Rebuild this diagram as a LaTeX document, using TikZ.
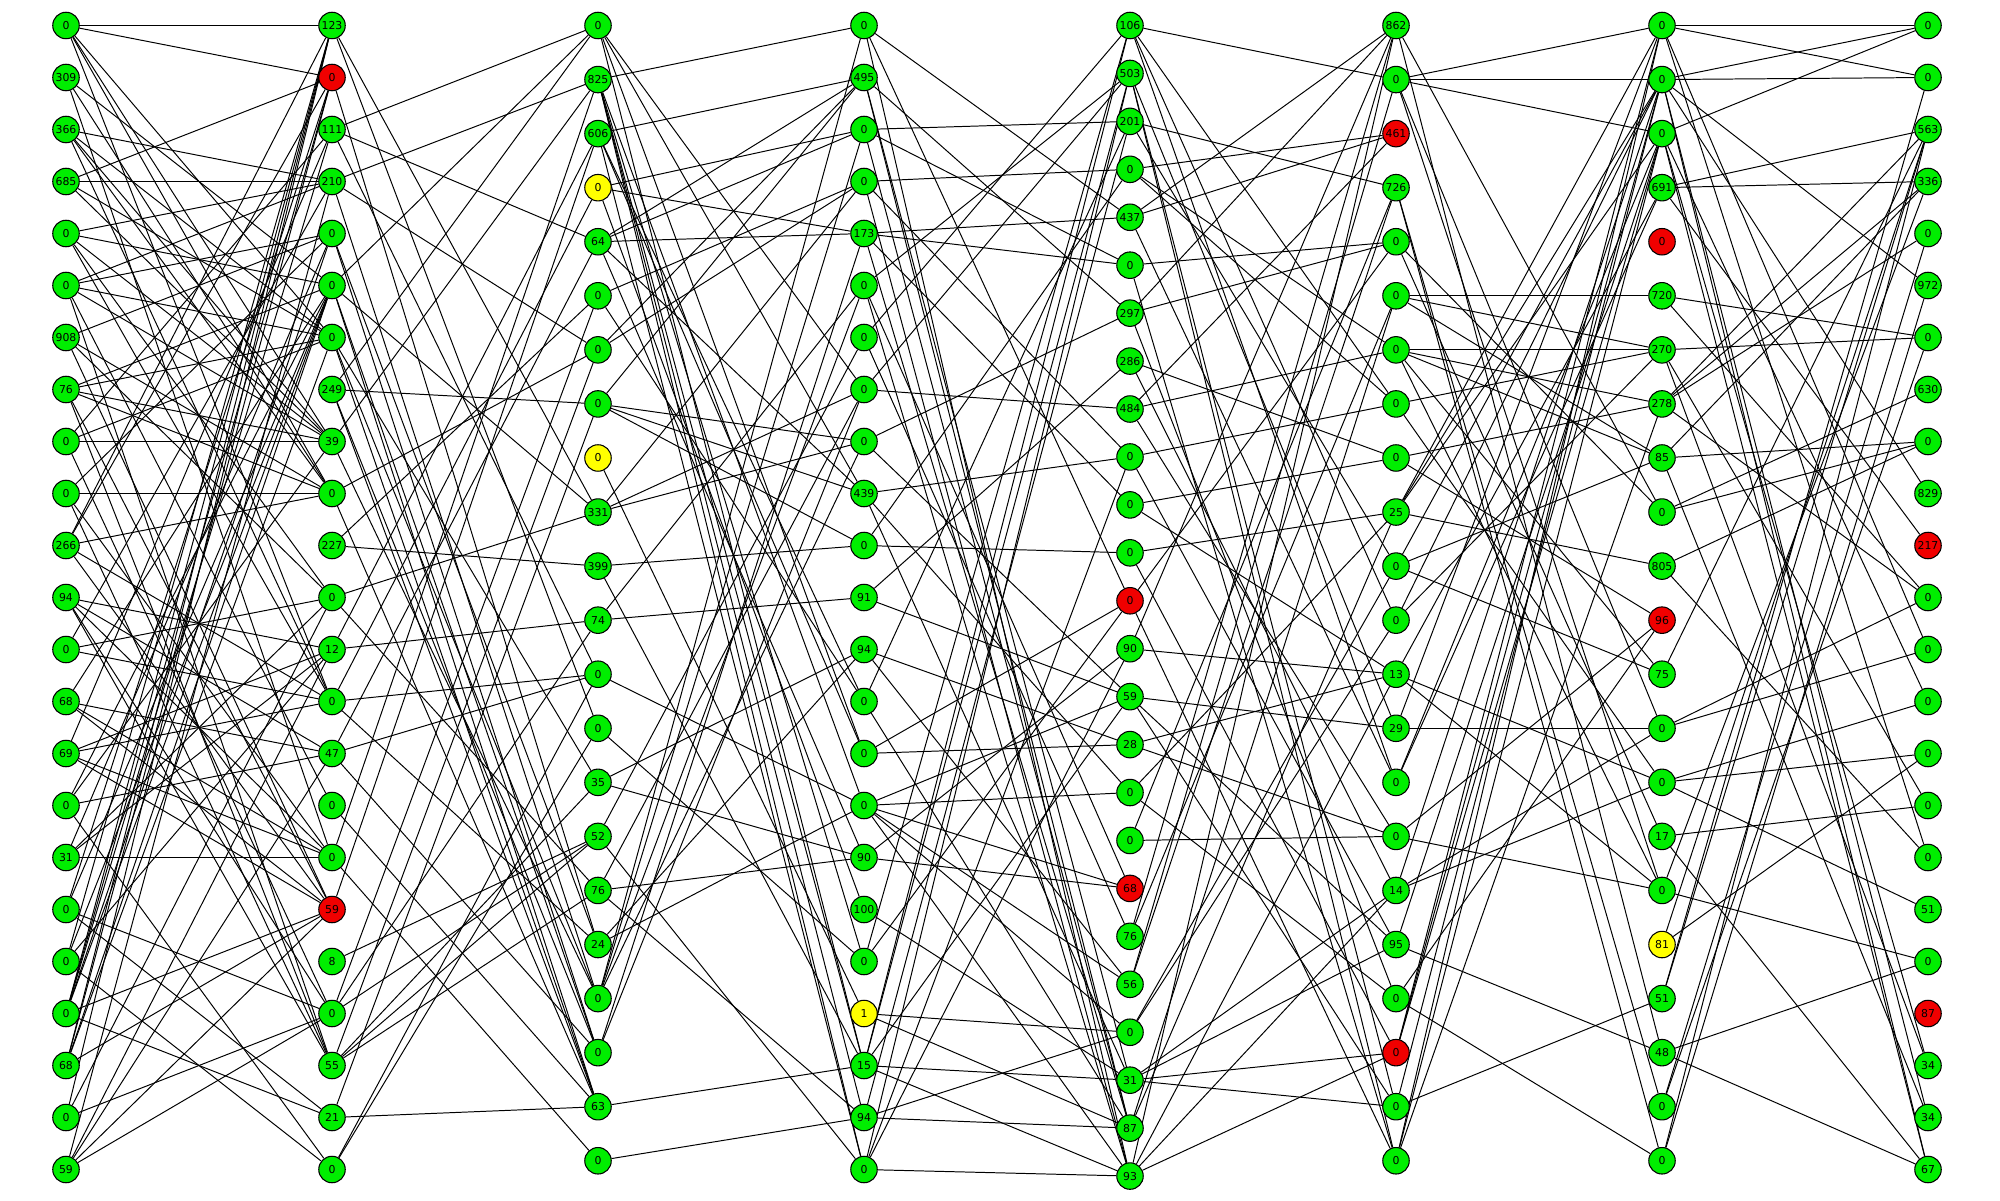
\documentclass[tikz,border=0pt]{standalone}
\usepackage{fontspec}
\setmainfont{DejaVu Sans}
\usetikzlibrary{backgrounds}
\definecolor{okgreen}{RGB}{0,238,0}
\definecolor{badred}{RGB}{240,0,0}
\definecolor{warnyellow}{RGB}{255,255,0}
\tikzset{
  vtx/.style={circle,draw=black,line width=0.3pt,minimum size=0.265cm,inner sep=0pt,
    font=\fontsize{3.1}{3.2}\selectfont},
  link/.style={line width=0.28pt}
}
\begin{document}
\begin{tikzpicture}
  \useasboundingbox (0,0) rectangle (20,12);
  % Nodes, one column at a time
  \foreach \lab/\col [count=\i from 0] in {0/okgreen,309/okgreen,366/okgreen,685/okgreen,0/okgreen,0/okgreen,908/okgreen,76/okgreen,0/okgreen,0/okgreen,266/okgreen,94/okgreen,0/okgreen,68/okgreen,69/okgreen,0/okgreen,31/okgreen,0/okgreen,0/okgreen,0/okgreen,68/okgreen,0/okgreen,59/okgreen}
    \node[vtx,fill=\col] (a\i) at (0.66,{12-0.255-\i*0.52}) {\lab};
  \foreach \lab/\col [count=\i from 0] in {123/okgreen,0/badred,111/okgreen,210/okgreen,0/okgreen,0/okgreen,0/okgreen,249/okgreen,39/okgreen,0/okgreen,227/okgreen,0/okgreen,12/okgreen,0/okgreen,47/okgreen,0/okgreen,0/okgreen,59/badred,8/okgreen,0/okgreen,55/okgreen,21/okgreen,0/okgreen}
    \node[vtx,fill=\col] (b\i) at (3.32,{12-0.255-\i*0.52}) {\lab};
  \foreach \lab/\col [count=\i from 0] in {0/okgreen,825/okgreen,606/okgreen,0/warnyellow,64/okgreen,0/okgreen,0/okgreen,0/okgreen,0/warnyellow,331/okgreen,399/okgreen,74/okgreen,0/okgreen,0/okgreen,35/okgreen,52/okgreen,76/okgreen,24/okgreen,0/okgreen,0/okgreen,63/okgreen,0/okgreen}
    \node[vtx,fill=\col] (c\i) at (5.98,{12-0.255-\i*0.5406}) {\lab};
  \foreach \lab/\col [count=\i from 0] in {0/okgreen,495/okgreen,0/okgreen,0/okgreen,173/okgreen,0/okgreen,0/okgreen,0/okgreen,0/okgreen,439/okgreen,0/okgreen,91/okgreen,94/okgreen,0/okgreen,0/okgreen,0/okgreen,90/okgreen,100/okgreen,0/okgreen,1/warnyellow,15/okgreen,94/okgreen,0/okgreen}
    \node[vtx,fill=\col] (d\i) at (8.64,{12-0.255-\i*0.52}) {\lab};
  \foreach \lab/\col [count=\i from 0] in {106/okgreen,503/okgreen,201/okgreen,0/okgreen,437/okgreen,0/okgreen,297/okgreen,286/okgreen,484/okgreen,0/okgreen,0/okgreen,0/okgreen,0/badred,90/okgreen,59/okgreen,28/okgreen,0/okgreen,0/okgreen,68/badred,76/okgreen,56/okgreen,0/okgreen,31/okgreen,87/okgreen,93/okgreen}
    \node[vtx,fill=\col] (e\i) at (11.30,{12-0.255-\i*0.4794}) {\lab};
  \foreach \lab/\col [count=\i from 0] in {862/okgreen,0/okgreen,461/badred,726/okgreen,0/okgreen,0/okgreen,0/okgreen,0/okgreen,0/okgreen,25/okgreen,0/okgreen,0/okgreen,13/okgreen,29/okgreen,0/okgreen,0/okgreen,14/okgreen,95/okgreen,0/okgreen,0/badred,0/okgreen,0/okgreen}
    \node[vtx,fill=\col] (f\i) at (13.96,{12-0.255-\i*0.5406}) {\lab};
  \foreach \lab/\col [count=\i from 0] in {0/okgreen,0/okgreen,0/okgreen,691/okgreen,0/badred,720/okgreen,270/okgreen,278/okgreen,85/okgreen,0/okgreen,805/okgreen,96/badred,75/okgreen,0/okgreen,0/okgreen,17/okgreen,0/okgreen,81/warnyellow,51/okgreen,48/okgreen,0/okgreen,0/okgreen}
    \node[vtx,fill=\col] (g\i) at (16.62,{12-0.255-\i*0.5406}) {\lab};
  \foreach \lab/\col [count=\i from 0] in {0/okgreen,0/okgreen,563/okgreen,336/okgreen,0/okgreen,972/okgreen,0/okgreen,630/okgreen,0/okgreen,829/okgreen,217/badred,0/okgreen,0/okgreen,0/okgreen,0/okgreen,0/okgreen,0/okgreen,51/okgreen,0/okgreen,87/badred,34/okgreen,34/okgreen,67/okgreen}
    \node[vtx,fill=\col] (h\i) at (19.28,{12-0.255-\i*0.52}) {\lab};

  % Links between neighbouring columns
  \begin{scope}[on background layer]
    \foreach \s/\t in {0/0,0/1,0/8,0/9,0/6,0/13,1/9,1/5,1/16,2/3,2/8,2/6,2/9,2/13,3/3,3/1,3/8,3/6,4/3,4/5,4/8,4/11,4/13,5/4,5/3,5/6,5/8,5/15,5/20,6/4,6/9,6/11,6/17,7/6,7/5,7/8,7/9,7/20,7/17,8/6,8/2,8/8,8/19,9/9,9/4,9/16,9/20,10/9,10/0,10/1,10/13,10/17,11/12,11/14,11/19,11/20,11/16,12/13,12/11,12/3,13/14,13/16,13/5,13/17,14/12,14/13,14/16,14/17,14/2,15/14,15/5,15/8,15/22,16/16,16/4,16/11,16/12,17/19,17/5,17/1,17/21,18/22,18/0,18/5,18/12,19/17,19/21,19/0,19/1,19/2,19/4,19/5,20/17,20/0,20/1,20/6,20/5,21/19,21/11,21/0,22/17,22/19,22/14,22/12,22/3}
      \draw[link] (a\s) -- (b\t);
    \foreach \s/\t in {0/9,0/13,1/17,2/0,2/4,2/12,3/1,3/6,3/18,4/19,4/17,5/0,5/9,5/19,5/20,6/20,6/18,6/14,7/7,7/0,7/20,7/19,8/1,8/18,9/6,9/20,10/10,10/5,11/9,11/16,12/11,12/2,13/12,13/17,13/3,14/12,14/19,14/4,15/20,16/21,16/1,17/2,18/15,19/15,19/11,19/5,20/15,20/16,20/14,20/6,21/20,21/7,22/13,22/12}
      \draw[link] (b\s) -- (c\t);
    \foreach \s/\t in {0/9,0/14,0/20,0/7,1/0,1/20,1/21,1/22,1/18,1/15,2/1,2/14,2/22,2/13,3/4,3/2,3/17,4/4,4/2,4/1,4/9,4/16,5/3,5/13,6/3,6/1,7/8,7/9,7/10,7/1,8/19,9/8,9/7,9/3,10/10,10/20,11/11,11/5,12/15,13/18,14/12,14/16,15/22,15/6,16/16,16/21,16/7,17/12,17/15,18/0,18/2,18/5,18/8,19/7,19/4,20/20,21/21}
      \draw[link] (c\s) -- (d\t);
    \foreach \s/\t in {0/12,0/24,0/4,1/23,1/22,1/6,2/2,2/5,2/23,3/3,3/9,3/24,4/5,4/4,4/10,4/23,5/1,5/18,5/24,6/0,6/19,7/1,7/8,8/6,8/14,9/9,9/16,9/22,10/11,10/3,11/14,11/7,12/15,12/20,13/2,13/23,14/15,14/12,15/16,15/14,15/18,15/20,15/21,15/24,16/18,16/13,17/22,18/0,18/12,19/21,19/23,20/0,20/1,20/22,20/24,20/14,21/2,21/21,21/23,22/1,22/24,22/13,22/9}
      \draw[link] (d\s) -- (e\t);
    \foreach \s/\t in {0/1,0/7,0/11,0/14,1/20,1/21,1/13,2/3,2/10,3/2,3/6,3/7,4/2,4/0,4/14,5/4,5/21,6/4,6/0,6/18,7/8,7/16,8/6,8/15,8/2,9/7,9/17,10/8,10/12,11/9,11/19,12/4,12/21,13/12,13/0,14/17,14/13,14/20,15/12,15/15,16/18,16/9,17/15,17/3,19/5,19/0,20/3,20/1,21/11,21/10,22/19,22/20,22/16,22/17,23/9,23/5,24/19,24/0,24/12,24/16}
      \draw[link] (e\s) -- (f\t);
    \foreach \s/\t in {0/9,0/19,1/0,1/1,1/2,1/13,1/16,3/20,3/21,4/9,4/15,5/5,5/6,5/8,6/6,6/7,6/8,6/12,6/16,7/6,7/14,8/7,8/11,9/10,9/0,9/1,9/2,10/8,10/1,10/12,11/1,11/6,12/14,12/16,12/3,13/13,13/0,14/3,14/2,15/16,15/11,16/13,16/1,16/14,17/19,17/2,18/21,18/11,19/2,19/0,19/1,20/18,20/1,21/0,21/2,21/7}
      \draw[link] (f\s) -- (g\t);
    \foreach \s/\t in {0/0,0/1,0/12,0/16,1/0,1/1,1/5,1/9,1/22,1/21,2/0,2/13,2/22,2/20,3/3,3/2,3/10,5/6,5/11,6/6,6/15,6/20,7/2,7/3,7/4,7/11,8/3,8/8,8/21,9/7,9/8,10/8,10/16,12/2,13/12,13/11,14/14,14/13,14/17,15/15,15/22,16/18,16/3,17/14,17/2,18/2,18/1,19/18,19/22,20/4,20/6,21/2,21/5}
      \draw[link] (g\s) -- (h\t);
  \end{scope}
\end{tikzpicture}
\end{document}
